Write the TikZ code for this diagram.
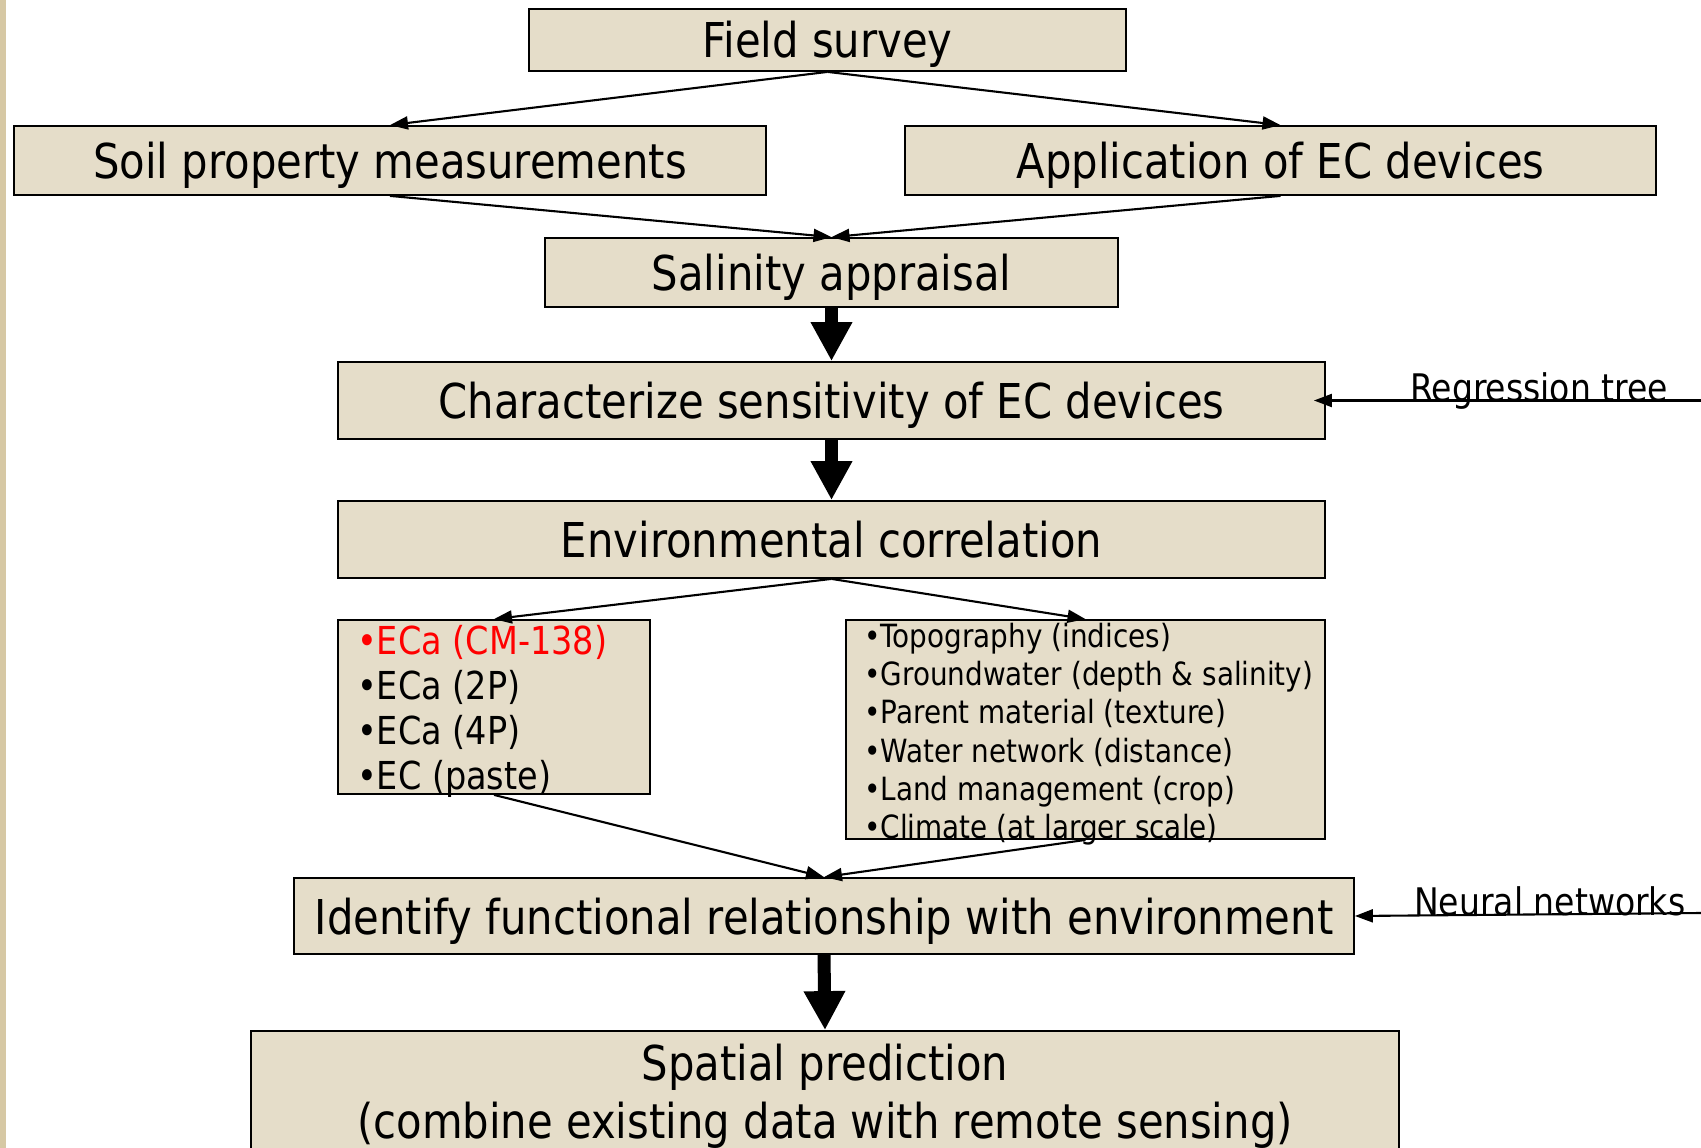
\documentclass[tikz,border=0pt]{standalone}
\usepackage{fontspec}
\setmainfont{DejaVu Sans}[FakeStretch=0.87]
\usetikzlibrary{arrows.meta}
\definecolor{boxfill}{RGB}{229,221,201}
\definecolor{stripcol}{RGB}{214,200,164}
\tikzset{
  box/.style={draw=black, line width=1.8pt, fill=boxfill, inner sep=0pt, font=\fontsize{48}{58}\selectfont, text height=42pt, text depth=6pt},
  plainbox/.style={draw=black, line width=1.8pt, fill=boxfill, inner sep=0pt},
  thinarrow/.style={line width=2.1pt, -{Triangle[length=18pt,width=13pt]}},
  bigarrow/.style={line width=13pt, -{Triangle[length=39pt,width=39pt]}},
  linetext/.style={anchor=base west, inner sep=0pt},
  ecafont/.style={font=\fontsize{38.5}{45}\selectfont},
  topofont/.style={font=\fontsize{32}{38}\selectfont},
  sidelabel/.style={anchor=base west, inner sep=0pt, font=\fontsize{38}{45}\selectfont},
}
\begin{document}
\begin{tikzpicture}[x=1pt,y=-1pt]
\useasboundingbox (0,0) rectangle (1701,1148);
\clip (0,0) rectangle (1701,1148);
\fill[white] (0,0) rectangle (1701,1148);
\fill[stripcol] (0,0) rectangle (6,1148);

% boxes
\node[box, minimum width=597pt, minimum height=62pt] (fs) at (827.5,40) {Field survey};
\node[box, minimum width=752pt, minimum height=69pt] (soil) at (390,160.5) {Soil property measurements};
\node[box, minimum width=751pt, minimum height=69pt] (app) at (1280.5,160.5) {Application of EC devices};
\node[box, minimum width=573pt, minimum height=69pt] (sal) at (831.5,272.5) {Salinity appraisal};
\node[box, minimum width=987pt, minimum height=77pt] (char) at (831.5,400.5) {Characterize sensitivity of EC devices};
\node[box, minimum width=987pt, minimum height=77pt] (env) at (831.5,539.5) {Environmental correlation};
\node[plainbox, minimum width=312pt, minimum height=174pt] (eca) at (494,707) {};
\node[plainbox, minimum width=479pt, minimum height=219pt] (topo) at (1085.5,729.5) {};
\node[box, minimum width=1060pt, minimum height=76pt] (ident) at (824,916) {Identify functional relationship with environment};
\node[plainbox, minimum width=1148pt, minimum height=169pt] (spat) at (825,1115.5) {};

% box texts
\node[linetext, ecafont, text=red] (eca1) at (357,654) {•ECa (CM-138)};
\node[linetext, ecafont] (eca2) at (357,699) {•ECa (2P)};
\node[linetext, ecafont] (eca3) at (357,744) {•ECa (4P)};
\node[linetext, ecafont] (eca4) at (357,789) {•EC (paste)};

\node[linetext, topofont] (t1) at (864,647) {•Topography (indices)};
\node[linetext, topofont] (t2) at (864,685) {•Groundwater (depth \& salinity)};
\node[linetext, topofont] (t3) at (864,723.5) {•Parent material (texture)};
\node[linetext, topofont] (t4) at (864,762) {•Water network (distance)};
\node[linetext, topofont] (t5) at (864,800) {•Land management (crop)};
\node[linetext, topofont] (t6) at (864,838) {•Climate (at larger scale)};

\node[anchor=base, inner sep=0pt, font=\fontsize{48}{58}\selectfont] (sp1) at (825,1080) {Spatial prediction};
\node[anchor=base, inner sep=0pt, font=\fontsize{48}{58}\selectfont] (sp2) at (825,1138) {(combine existing data with remote sensing)};

% thin arrows
\draw[thinarrow] (fs.south) -- (soil.north);
\draw[thinarrow] (fs.south) -- (app.north);
\draw[thinarrow] (soil.south) -- (sal.north);
\draw[thinarrow] (app.south) -- (sal.north);
\draw[thinarrow] (env.south) -- (eca.north);
\draw[thinarrow] (env.south) -- (topo.north);
\draw[thinarrow] (eca.south) -- (ident.north);
\draw[thinarrow] (topo.south) -- (ident.north);

% thick arrows
\draw[bigarrow] (sal.south) -- (char.north);
\draw[bigarrow] (char.south) -- (env.north);
\draw[bigarrow] (ident.south) -- (spat.north);

% side inputs
\coordinate (rtend) at (1701,400.5);
\coordinate (nnend) at (1701,913);
\draw[thinarrow] (rtend) -- ([xshift=-12pt]char.east);
\draw[thinarrow] (nnend) -- (ident.east);
\node[sidelabel] (rt) at (1410,401) {Regression tree};
\node[sidelabel] (nn) at (1414,915) {Neural networks};
\end{tikzpicture}
\end{document}
